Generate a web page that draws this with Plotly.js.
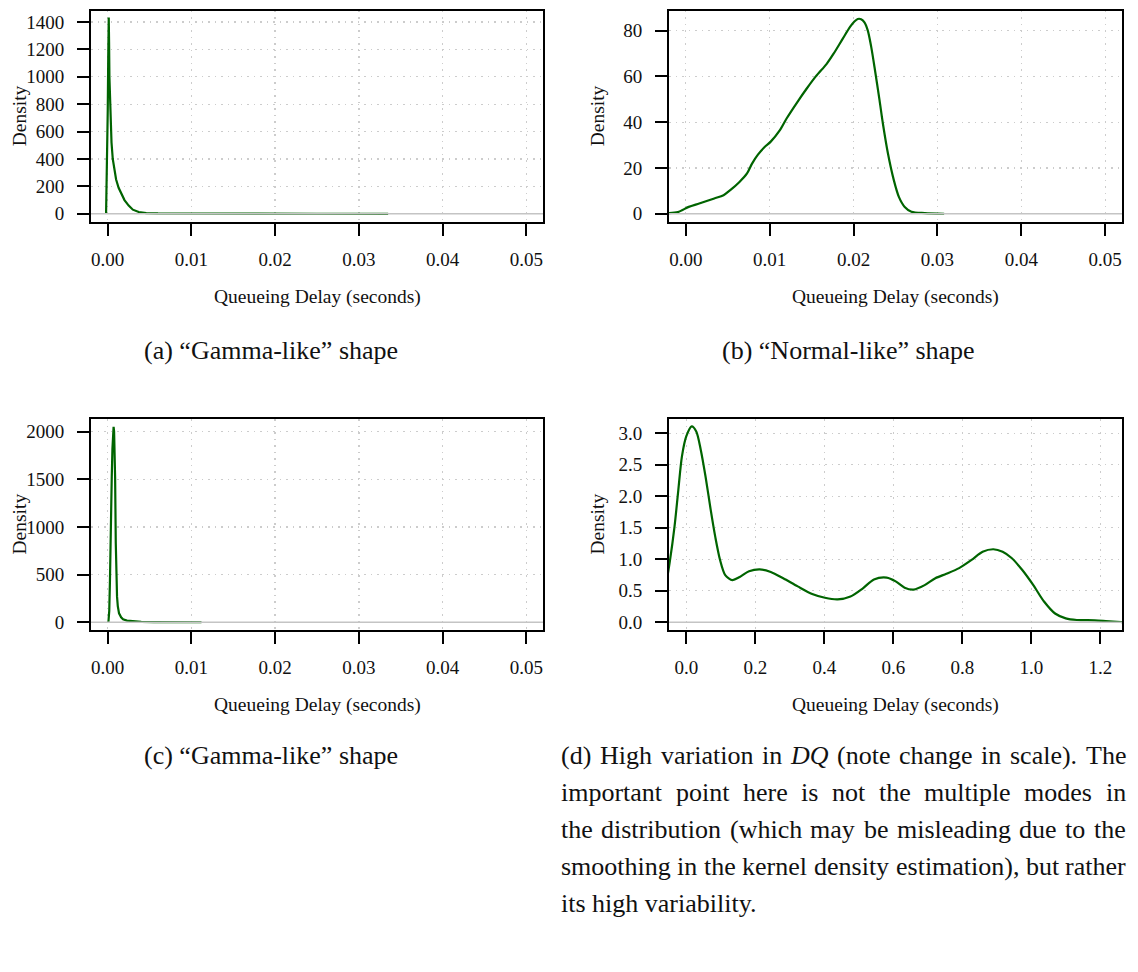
<!DOCTYPE html>
<html>
<head>
<meta charset="utf-8">
<script src="https://cdn.plot.ly/plotly-3.0.1.min.js"></script>
<style>html,body{margin:0;padding:0;background:#fff;}#chart{width:1138px;height:972px;}</style>
</head>
<body>
<div id="chart"></div>
<script>
// ---------------- data ----------------
const delayTicksSmall = [0, 0.01, 0.02, 0.03, 0.04, 0.05];
const delayTicksLarge = [0, 0.2, 0.4, 0.6, 0.8, 1.0, 1.2];
const densityTicksA = [0, 200, 400, 600, 800, 1000, 1200, 1400];
const densityTicksB = [0, 20, 40, 60, 80];
const densityTicksC = [0, 500, 1000, 1500, 2000];
const densityTicksD = [0, 0.5, 1.0, 1.5, 2.0, 2.5, 3.0];

// (a) Gamma-like
const delayA = [-0.0002, -0.0001, 0.0, 0.00006, 0.00012, 0.00016, 0.0002, 0.00028, 0.00036, 0.00045, 0.0006, 0.0008, 0.001, 0.0013, 0.0016, 0.002, 0.0025, 0.003, 0.0037, 0.0046, 0.006, 0.008, 0.012, 0.018, 0.025, 0.0335];
const densityA = [0, 300, 750, 1150, 1433, 1250, 1000, 800, 620, 520, 400, 310, 250, 190, 150, 100, 60, 30, 13, 5, 2.5, 1.5, 1, 0.6, 0.3, 0];

// (b) Normal-like
const delayB = [-0.0021, -0.00095, 0.00035, 0.0016, 0.0034, 0.0045, 0.0053, 0.0064, 0.0073, 0.0079, 0.0086, 0.0094, 0.0101, 0.0112, 0.012, 0.0133, 0.0144, 0.0155, 0.0168, 0.0176, 0.0187, 0.0196, 0.0201, 0.0205, 0.0209, 0.0213, 0.0217, 0.0221, 0.0225, 0.0231, 0.0235, 0.0241, 0.0248, 0.0254, 0.0261, 0.0269, 0.0285, 0.0308];
const densityB = [0.3, 0.7, 3.0, 4.5, 6.7, 8.1, 10.3, 13.9, 17.6, 21.9, 25.8, 29.2, 31.4, 36.4, 41.5, 48.8, 54.6, 60.0, 65.5, 69.8, 76.4, 81.7, 84.0, 85.1, 85.0, 83.6, 80.0, 73.0, 64.0, 49.5, 39.3, 26.3, 14.7, 7.4, 3.0, 0.9, 0.3, 0];

// (c) Gamma-like
const delayC = [0.00008, 0.00018, 0.00026, 0.00032, 0.0004, 0.00048, 0.00056, 0.00064, 0.0007, 0.00076, 0.00082, 0.00088, 0.00096, 0.00104, 0.00111, 0.0012, 0.00135, 0.0016, 0.00183, 0.0023, 0.003, 0.004, 0.0055, 0.0075, 0.0095, 0.0112];
const densityC = [0, 120, 420, 829, 1180, 1528, 1820, 2000, 2050, 2000, 1820, 1528, 829, 450, 269, 170, 94, 52, 31, 18, 10, 5, 2.5, 1.5, 1, 0.5];

// (d) High variation
const delayD = [-0.06, -0.048, -0.034, -0.023, -0.0126, 0.0, 0.0157, 0.029, 0.042, 0.056, 0.071, 0.084, 0.098, 0.113, 0.134, 0.155, 0.182, 0.213, 0.245, 0.281, 0.323, 0.365, 0.402, 0.439, 0.476, 0.512, 0.544, 0.581, 0.607, 0.633, 0.659, 0.691, 0.722, 0.754, 0.791, 0.827, 0.859, 0.890, 0.917, 0.943, 0.974, 1.006, 1.037, 1.069, 1.100, 1.132, 1.184, 1.216, 1.26, 1.28];
const densityD = [0.55, 0.95, 1.52, 2.10, 2.63, 2.95, 3.11, 3.03, 2.74, 2.31, 1.78, 1.36, 0.99, 0.75, 0.67, 0.72, 0.81, 0.84, 0.80, 0.70, 0.57, 0.45, 0.39, 0.365, 0.41, 0.54, 0.68, 0.71, 0.65, 0.55, 0.52, 0.59, 0.70, 0.77, 0.86, 0.99, 1.12, 1.16, 1.12, 1.02, 0.83, 0.59, 0.33, 0.14, 0.063, 0.037, 0.032, 0.021, 0.005, 0.0];

const xTitle = "Queueing Delay (seconds)";
const yTitle = "Density";
const captionA = "(a) \u201cGamma-like\u201d shape";
const captionB = "(b) \u201cNormal-like\u201d shape";
const captionC = "(c) \u201cGamma-like\u201d shape";
const captionDLines = [
  "(d) High variation in <i>DQ</i> (note change in scale). The",
  "important point here is not the multiple modes in",
  "the distribution (which may be misleading due to the",
  "smoothing in the kernel density estimation), but rather",
  "its high variability."
];

// ---------------- layout helpers ----------------
const W = 1138, H = 972;
const FONT = '"Liberation Serif", "Times New Roman", serif';
const GREEN = '#006400';
const px = v => v / W;
const py = v => 1 - v / H;

const boxes = {
  a: {x0: 91, x1: 543, y0: 10.7, y1: 222},
  b: {x0: 669, x1: 1122, y0: 10.7, y1: 222},
  c: {x0: 91, x1: 543, y0: 419, y1: 630},
  d: {x0: 669, x1: 1122, y0: 419, y1: 630}
};

const GRID = {showgrid: true, gridcolor: '#cccccc', griddash: '1.5px,5px', gridwidth: 1.3};

function xAxis(box, range, ticks, fmt, anchor) {
  return Object.assign({
    domain: [px(box.x0), px(box.x1)], range: range, anchor: anchor,
    tickmode: 'array', tickvals: ticks, ticktext: ticks.map(v => v.toFixed(fmt)),
    ticks: 'outside', ticklen: 12, tickwidth: 2, tickcolor: '#000',
    ticklabelstandoff: 7,
    showline: true, mirror: true, linecolor: '#000', linewidth: 2,
    zeroline: false, fixedrange: true,
    tickfont: {family: FONT, size: 19, color: '#111'}
  }, GRID);
}
function yAxis(box, range, ticks, fmt, anchor) {
  return Object.assign({
    domain: [py(box.y1), py(box.y0)], range: range, anchor: anchor,
    tickmode: 'array', tickvals: ticks, ticktext: ticks.map(v => v.toFixed(fmt)),
    ticks: 'outside', ticklen: 12, tickwidth: 2, tickcolor: '#000',
    ticklabelstandoff: 9,
    showline: true, mirror: true, linecolor: '#000', linewidth: 2,
    zeroline: false, fixedrange: true,
    tickfont: {family: FONT, size: 19, color: '#111'}
  }, GRID);
}

const traces = [
  {x: delayA, y: densityA, xaxis: 'x', yaxis: 'y', mode: 'lines', line: {color: GREEN, width: 2.2, shape: 'linear'}, hoverinfo: 'skip'},
  {x: delayB, y: densityB, xaxis: 'x2', yaxis: 'y2', mode: 'lines', line: {color: GREEN, width: 2.2, shape: 'spline', smoothing: 0.8}, hoverinfo: 'skip'},
  {x: delayC, y: densityC, xaxis: 'x3', yaxis: 'y3', mode: 'lines', line: {color: GREEN, width: 2.2, shape: 'linear'}, hoverinfo: 'skip'},
  {x: delayD, y: densityD, xaxis: 'x4', yaxis: 'y4', mode: 'lines', line: {color: GREEN, width: 2.2, shape: 'spline', smoothing: 0.8}, hoverinfo: 'skip'}
];

const annotations = [];
const shapes = [];
function txt(text, x, y, size, opts) {
  annotations.push(Object.assign({
    text: text, x: px(x), y: py(y), xref: 'paper', yref: 'paper',
    xanchor: 'center', yanchor: 'middle', showarrow: false,
    font: {family: FONT, size: size, color: '#111'}
  }, opts || {}));
}

['a', 'b', 'c', 'd'].forEach((k, i) => {
  const b = boxes[k];
  const sfx = i === 0 ? '' : String(i + 1);
  txt(xTitle, (b.x0 + b.x1) / 2, b.y1 + 75, 19.5);
  txt(yTitle, b.x0 - 72, (b.y0 + b.y1) / 2, 19.5, {textangle: -90});
  shapes.push({type: 'line', xref: 'x' + sfx + ' domain', yref: 'y' + sfx, x0: 0, x1: 1, y0: 0, y1: 0,
    line: {color: '#c4c4c4', width: 1.4}, layer: 'above'});
});

const CAP = 26;
txt(captionA, 271, 350, CAP);
txt(captionB, 848, 350, CAP);
txt(captionC, 271, 755, CAP);

// justified caption (d)
const canvas = document.createElement('canvas');
const ctx = canvas.getContext('2d');
function measure(word) {
  const it = word.startsWith('<i>');
  const plain = word.replace(/<[^>]+>/g, '');
  ctx.font = (it ? 'italic ' : '') + CAP + 'px "Liberation Serif"';
  return ctx.measureText(plain).width;
}
const LEFT = 561, RIGHT = 1126, LINE0 = 755, LINE_STEP = 37;
captionDLines.forEach((line, li) => {
  const yc = LINE0 + li * LINE_STEP;
  if (li === captionDLines.length - 1) {
    txt(line, LEFT - 1, yc, CAP, {xanchor: 'left', borderpad: 0});
    return;
  }
  const words = line.split(' ');
  const widths = words.map(measure);
  const total = widths.reduce((s, v) => s + v, 0);
  const gap = (RIGHT - LEFT - total) / (words.length - 1);
  let xpos = LEFT;
  words.forEach((w, wi) => {
    txt(w, xpos - 1, yc, CAP, {xanchor: 'left', borderpad: 0});
    xpos += widths[wi] + gap;
  });
});

const layout = {
  width: W, height: H, autosize: false,
  margin: {l: 0, r: 0, t: 0, b: 0},
  paper_bgcolor: '#fff', plot_bgcolor: '#fff',
  showlegend: false,
  xaxis: xAxis(boxes.a, [-0.002, 0.052], delayTicksSmall, 2, 'y'),
  yaxis: yAxis(boxes.a, [-60, 1482], densityTicksA, 0, 'x'),
  xaxis2: xAxis(boxes.b, [-0.002, 0.052], delayTicksSmall, 2, 'y2'),
  yaxis2: yAxis(boxes.b, [-3.6, 88.7], densityTicksB, 0, 'x2'),
  xaxis3: xAxis(boxes.c, [-0.002, 0.052], delayTicksSmall, 2, 'y3'),
  yaxis3: yAxis(boxes.c, [-81, 2133], densityTicksC, 0, 'x3'),
  xaxis4: xAxis(boxes.d, [-0.05, 1.263], delayTicksLarge, 1, 'y4'),
  yaxis4: yAxis(boxes.d, [-0.122, 3.227], densityTicksD, 1, 'x4'),
  annotations: annotations,
  shapes: shapes
};

Plotly.newPlot('chart', traces, layout, {displayModeBar: false, staticPlot: true});
</script>
</body>
</html>
